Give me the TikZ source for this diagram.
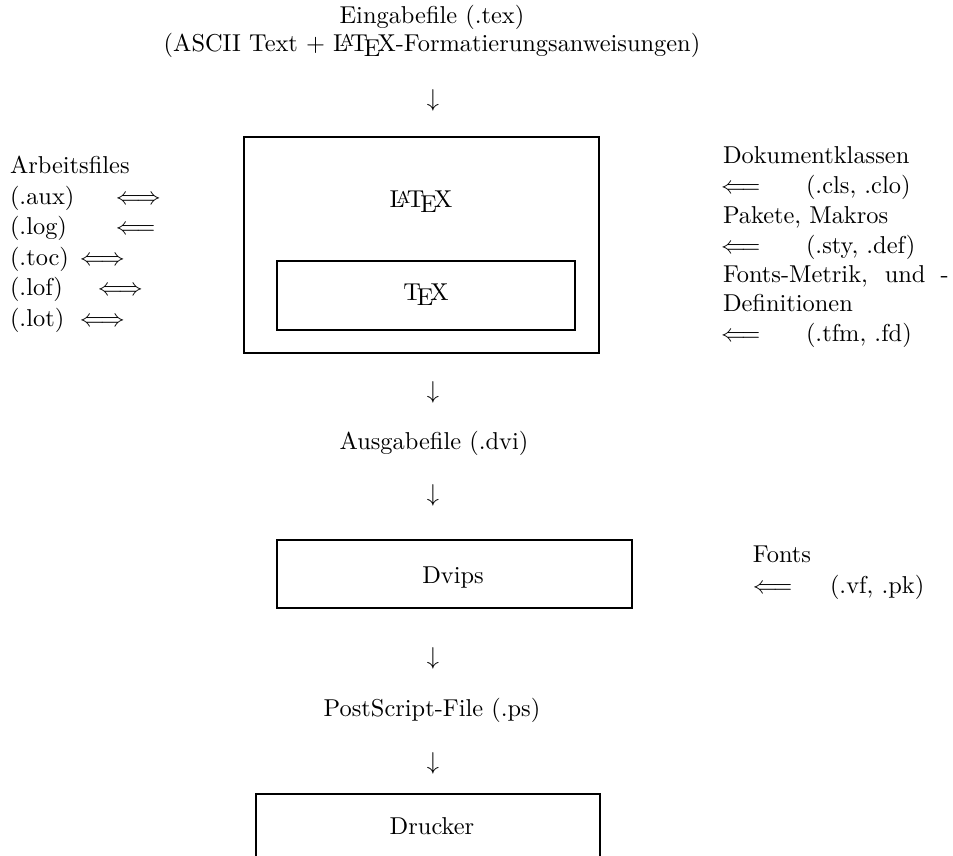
\documentclass[tikz,border=0pt]{standalone}
\begin{document}
\begin{tikzpicture}[x=0.4098pt,y=-0.4098pt,
  lbl/.style={inner sep=0pt,outer sep=0pt},
  lft/.style={inner sep=0pt,outer sep=0pt,anchor=base west},
  boxline/.style={line width=0.8pt}]
\path[use as bounding box] (0,0) rectangle (953,856);
\clip (0,0) rectangle (953,856);
% middle column
\node[lbl] (ein) at (432,17) {Eingabefile (.tex)};
\node[lbl] (ascii) at (432,45) {(ASCII Text + \LaTeX-Formatierungsanweisungen)};
\node[lbl] (d1) at (433,100) {$\downarrow$};
\draw[boxline] (244,137) rectangle (599,353);
\node[lbl] (latex) at (421,202) {\LaTeX};
\draw[boxline] (277,261) rectangle (575,330);
\node[lbl] (tex) at (426,295) {\TeX};
\node[lbl] (d2) at (433,392) {$\downarrow$};
\node[lbl] (aus) at (434,443) {Ausgabefile (.dvi)};
\node[lbl] (d3) at (433,495) {$\downarrow$};
\draw[boxline] (277,540) rectangle (632,608);
\node[lbl] (dvips) at (453,578) {Dvips};
\node[lbl] (d4) at (433,658) {$\downarrow$};
\node[lbl] (ps) at (432,710) {PostScript-File (.ps)};
\node[lbl] (d5) at (433,763) {$\downarrow$};
\draw[boxline] (256,794) rectangle (600,880);
\node[lbl] (drucker) at (432,826) {Drucker};
% left column
\node[lft] (arb) at (10,174) {Arbeitsfiles};
\node[lft] (aux) at (10,205) {(.aux)};
\node[lft] (auxa) at (116,205) {$\Longleftrightarrow$};
\node[lft] (log) at (10,235) {(.log)};
\node[lft] (loga) at (116,235) {$\Longleftarrow$};
\node[lft] (toc) at (10,266) {(.toc)};
\node[lft] (toca) at (80,266) {$\Longleftrightarrow$};
\node[lft] (lof) at (10,296) {(.lof)};
\node[lft] (lofa) at (98,296) {$\Longleftrightarrow$};
\node[lft] (lot) at (10,327) {(.lot)};
\node[lft] (lota) at (80,327) {$\Longleftrightarrow$};
% right column
\node[lft] (dok) at (723,164) {Dokumentklassen};
\node[lft] (clsa) at (721,194) {$\Longleftarrow$};
\node[lft] (cls) at (806,194) {(.cls, .clo)};
\node[lft] (pak) at (723,224) {Pakete, Makros};
\node[lft] (stya) at (721,254) {$\Longleftarrow$};
\node[lft] (sty) at (806,254) {(.sty, .def)};
\node[lft] (fm) at (723,283) {\makebox[92.5pt][s]{Fonts-Metrik, und -}};
\node[lft] (def) at (723,312) {Definitionen};
\node[lft] (tfma) at (721,342) {$\Longleftarrow$};
\node[lft] (tfm) at (806,342) {(.tfm, .fd)};
\node[lft] (fonts) at (753,563) {Fonts};
\node[lft] (vfa) at (753,594) {$\Longleftarrow$};
\node[lft] (vf) at (830,594) {(.vf, .pk)};
\end{tikzpicture}
\end{document}
